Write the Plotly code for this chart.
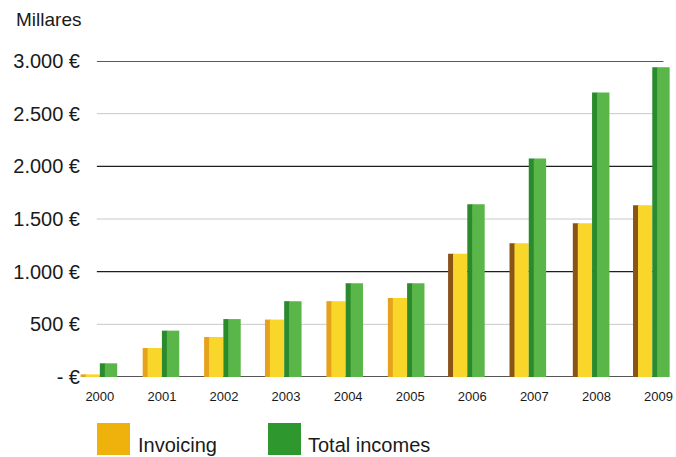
import numpy as np
import plotly.graph_objects as go

# Annual figures, thousands of euros
years = ["2000", "2001", "2002", "2003", "2004", "2005", "2006", "2007", "2008", "2009"]
invoicing = [25, 275, 380, 545, 720, 750, 1170, 1270, 1460, 1630]
total_incomes = [130, 440, 550, 720, 890, 890, 1640, 2075, 2700, 2940]

y_ticks = [0, 500, 1000, 1500, 2000, 2500, 3000]
y_tick_text = ["- €", "500 €", "1.000 €", "1.500 €", "2.000 €", "2.500 €", "3.000 €"]

series_names = ["Invoicing", "Total incomes"]

x = np.arange(len(years))
FONT = "Liberation Sans, Arial, Helvetica, sans-serif"

# horizontal extent of the rules (data units) and of the whole x axis
RULE_X0, RULE_X1 = -0.048, 9.08
X_RANGE = [-0.4, 9.25]
PLOT_L, PLOT_R = 75, 2
PLOT_W = 676 - PLOT_L - PLOT_R

# slight leftward drift of the bar pairs towards the right (perspective look)
bar_shift = np.array([0, 0, -0.01, -0.03, -0.04, -0.05, -0.08, -0.09, -0.07, -0.1])

# shaded side of the yellow bars: orange for the early years, brown later
yellow_side = ["#E6A21C"] * 6 + ["#8A5418"] * 4

fig = go.Figure()

# Invoicing: darker side strip + bright front face
fig.add_trace(go.Bar(x=x, y=invoicing, offset=-0.31 + bar_shift, width=0.1,
                     marker=dict(color=yellow_side, line=dict(width=0)),
                     hoverinfo="skip", showlegend=False))
fig.add_trace(go.Bar(x=x, y=invoicing, offset=-0.23 + bar_shift, width=0.23,
                     marker=dict(color="#F8D62A", line=dict(width=0)),
                     name=series_names[0], showlegend=False))

# Total incomes: dark shaded strip + lighter green face
fig.add_trace(go.Bar(x=x, y=total_incomes, offset=0.0 + bar_shift, width=0.09,
                     marker=dict(color="#2A8A2C", line=dict(width=0)),
                     hoverinfo="skip", showlegend=False))
fig.add_trace(go.Bar(x=x, y=total_incomes, offset=0.08 + bar_shift, width=0.2,
                     marker=dict(color="#5BB649", line=dict(width=0)),
                     name=series_names[1], showlegend=False))

shapes = []
# rules: light at the half-thousands, dark at each thousand, grey on top
for v in y_ticks:
    if v == 3000:
        color, w = "#5A5A5A", 1.8
    elif v % 1000 == 0:
        color, w = "#1E1E1E", 1.3
    else:
        color, w = "#C9C9C9", 1
    shapes.append(dict(type="line", xref="x", yref="y", x0=RULE_X0, x1=RULE_X1, y0=v, y1=v,
                       line=dict(color=color, width=w), layer="below"))

# legend swatches (pixel positions converted to paper coordinates)
def px_x(p):
    return (p - PLOT_L) / PLOT_W

def px_y(p):
    return (377 - p) / 316

shapes.append(dict(type="rect", xref="paper", yref="paper", x0=px_x(97), x1=px_x(130),
                   y0=px_y(455), y1=px_y(423), fillcolor="#EFB10C", line=dict(width=0)))
shapes.append(dict(type="rect", xref="paper", yref="paper", x0=px_x(268), x1=px_x(301),
                   y0=px_y(455), y1=px_y(423), fillcolor="#2E982E", line=dict(width=0)))

annotations = [
    dict(text="Millares", xref="paper", yref="paper", x=px_x(14), y=px_y(20),
         xanchor="left", yanchor="middle", showarrow=False,
         font=dict(family=FONT, size=19, color="#1A1A1A")),
    dict(text=series_names[0], xref="paper", yref="paper", x=px_x(136), y=px_y(445),
         xanchor="left", yanchor="middle", showarrow=False,
         font=dict(family=FONT, size=20, color="#1A1A1A")),
    dict(text=series_names[1], xref="paper", yref="paper", x=px_x(306), y=px_y(445),
         xanchor="left", yanchor="middle", showarrow=False,
         font=dict(family=FONT, size=20, color="#1A1A1A")),
]

fig.update_layout(
    width=676, height=457,
    margin=dict(l=PLOT_L, r=PLOT_R, t=61, b=80),
    paper_bgcolor="white", plot_bgcolor="white",
    barmode="overlay",
    shapes=shapes,
    annotations=annotations,
    xaxis=dict(range=X_RANGE, tickmode="array", tickvals=x, ticktext=years,
               showgrid=False, zeroline=False, showline=False, ticks="",
               ticklabelstandoff=10,
               tickfont=dict(family=FONT, size=13, color="#1A1A1A")),
    yaxis=dict(range=[0, 3000], tickmode="array", tickvals=y_ticks, ticktext=y_tick_text,
               anchor="free", position=px_x(97),
               showgrid=False, zeroline=False, showline=False, ticks="",
               ticklabelstandoff=17,
               tickfont=dict(family=FONT, size=20, color="#1A1A1A")),
)

fig.write_html("out.html")
